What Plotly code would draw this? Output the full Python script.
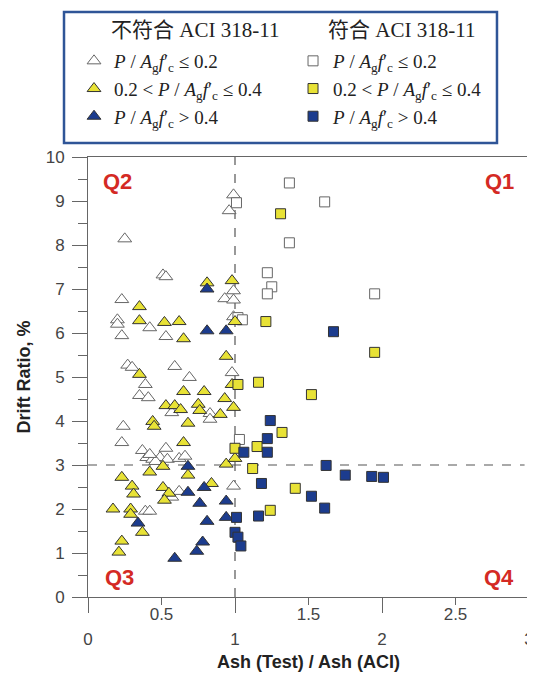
import plotly.graph_objects as go

# ---- data (x = Ash(Test)/Ash(ACI), y = drift ratio %) ----
nc_low_x = [0.99,0.96,0.25,0.51,0.53,0.99,0.93,0.99,0.23,0.20,0.20,0.42,0.99,0.23,0.53,0.27,0.30,0.59,0.69,0.98,0.39,0.35,0.41,0.57,0.83,0.83,0.24,0.23,0.37,0.40,0.44,0.49,0.53,0.54,0.46,0.62,0.66,0.42,0.62,0.57,0.99,0.39,0.42]
nc_low_y = [9.14,8.78,8.14,7.32,7.28,6.96,6.78,6.75,6.76,6.30,6.20,6.12,6.37,5.94,5.92,5.27,5.22,5.24,4.99,5.10,4.83,4.58,4.53,4.19,4.17,4.04,3.88,3.51,3.33,3.17,3.13,3.17,3.38,3.13,3.08,3.15,3.20,3.24,2.40,2.27,2.52,1.95,1.95]

nc_mid_x = [0.81,0.98,0.35,0.35,0.52,0.62,0.65,1.00,0.94,0.35,0.98,0.65,0.79,0.93,0.53,0.59,0.63,0.75,0.76,0.99,0.90,0.44,0.45,0.68,0.65,0.51,0.42,0.68,0.94,1.00,0.23,0.30,0.31,0.51,0.55,0.52,0.84,0.17,0.29,0.29,0.37,0.23,0.21]
nc_mid_y = [7.14,7.19,6.60,6.28,6.24,6.26,5.87,6.26,5.47,5.06,4.83,4.67,4.67,4.51,4.35,4.35,4.26,4.38,4.24,4.31,4.15,3.99,3.88,3.95,3.51,2.97,2.84,2.77,3.02,3.15,2.72,2.52,2.34,2.49,2.36,2.20,2.58,2.00,2.00,1.88,1.47,1.27,1.02]

nc_high_x = [0.81,0.81,0.94,0.68,0.68,0.79,0.76,0.94,0.81,0.94,0.34,0.59,0.78,0.74]
nc_high_y = [7.00,6.05,6.05,2.97,2.38,2.49,2.13,2.18,1.72,1.81,1.68,0.88,1.25,1.04]

c_low_x = [1.01,1.02,1.05,1.37,1.61,1.37,1.22,1.25,1.22,1.95,1.03]
c_low_y = [8.96,6.35,6.30,9.41,8.98,8.05,7.37,7.05,6.89,6.89,3.58]

c_mid_x = [1.31,1.21,1.95,1.02,1.16,1.52,1.32,1.15,1.00,1.12,1.41,1.24]
c_mid_y = [8.71,6.26,5.56,4.83,4.88,4.60,3.74,3.42,3.38,2.92,2.47,1.97]

c_high_x = [1.67,1.24,1.22,1.06,1.22,1.62,1.75,1.93,2.01,1.18,1.52,1.61,1.16,1.01,1.00,1.02,1.04]
c_high_y = [6.03,4.01,3.60,3.29,3.29,2.99,2.77,2.74,2.72,2.58,2.29,2.02,1.84,1.81,1.47,1.36,1.16]

x_ticks_major = [0, 1, 2, 3]
x_ticks_half = [0.5, 1.5, 2.5]
y_ticks = list(range(0, 11))
quadrants = ["Q1", "Q2", "Q3", "Q4"]
legend_headers = ["不符合 ACI 318-11", "符合 ACI 318-11"]

WHITE = "#ffffff"
YELLOW = "#e8e236"
BLUE = "#1c3c8e"
EDGE = "#333333"
AX = "#666666"

ratio = "<i>P</i> / <i>A</i><sub>g</sub><i>f</i>\u2032<sub>c</sub>"
lab_low = ratio + " \u2264 0.2"
lab_mid = "0.2 < " + ratio + " \u2264 0.4"
lab_high = ratio + " > 0.4"

fig = go.Figure()
series = [
    (nc_low_x, nc_low_y, "triangle-up", WHITE, lab_low),
    (c_low_x, c_low_y, "square", WHITE, lab_low),
    (nc_mid_x, nc_mid_y, "triangle-up", YELLOW, lab_mid),
    (c_mid_x, c_mid_y, "square", YELLOW, lab_mid),
    (nc_high_x, nc_high_y, "triangle-up", BLUE, lab_high),
    (c_high_x, c_high_y, "square", BLUE, lab_high),
]
for xs, ys, sym, col, lab in series:
    size = 12 if sym == "triangle-up" else 10
    fig.add_trace(go.Scatter(
        x=xs, y=ys, mode="markers", name=lab,
        marker=dict(symbol=sym, size=size, color=col,
                    line=dict(color=EDGE if col != WHITE else "#666666", width=1)),
    ))
# empty trace so the half-step tick axis is drawn
fig.add_trace(go.Scatter(x=[], y=[], xaxis="x2", yaxis="y", showlegend=False, hoverinfo="skip"))

# dashed reference lines
fig.add_shape(type="line", x0=1, x1=1, y0=0, y1=10, xref="x", yref="y",
              line=dict(color="#555555", width=1.2, dash="dash"), layer="below")
fig.add_shape(type="line", x0=0, x1=2.97, y0=3, y1=3, xref="x", yref="y",
              line=dict(color="#555555", width=1.2, dash="dash"), layer="below")

# legend frame
fig.add_shape(type="rect", xref="paper", yref="paper", x0=-0.0544, x1=0.9274, y0=1.0318, y1=1.3295,
              line=dict(color="#2f5597", width=2.5), fillcolor="white", layer="below")
for txt, hx in zip(legend_headers, [0.2426, 0.7098]):
    fig.add_annotation(x=hx, y=1.2886, xref="paper", yref="paper", text=txt, showarrow=False,
                       xanchor="center", yanchor="middle",
                       font=dict(family="Liberation Serif, Noto Sans CJK SC, serif", size=21, color="#222222"))

qpos = {"Q1": (0.97, 0.945, "right"), "Q2": (0.03, 0.945, "left"),
        "Q3": (0.035, 0.045, "left"), "Q4": (0.97, 0.045, "right")}
for q in quadrants:
    px, py, xa = qpos[q]
    fig.add_annotation(x=px, y=py, xref="paper", yref="paper", text="<b>%s</b>" % q,
                       showarrow=False, xanchor=xa, yanchor="middle",
                       font=dict(family="Liberation Sans, Arial", size=22, color="#d42a24"))

fig.update_layout(
    width=527, height=667,
    margin=dict(l=80, r=6, t=149, b=78),
    paper_bgcolor="white", plot_bgcolor="white",
    font=dict(family="Liberation Sans, Arial", color="#333333"),
    showlegend=True,
    legend=dict(
        orientation="h", x=-0.0317, y=1.2614, xanchor="left", yanchor="top",
        entrywidth=174, entrywidthmode="pixels",
        borderwidth=0, bgcolor="rgba(0,0,0,0)",
        font=dict(family="Liberation Serif, Times New Roman, serif", size=19, color="#222222"),
        tracegroupgap=0, itemwidth=30,
    ),
    xaxis=dict(range=[0, 3], tickvals=x_ticks_major, ticktext=[("%g" % v) for v in x_ticks_major],
               showgrid=False, zeroline=False, showline=True, linecolor=AX, linewidth=1,
               mirror=True, ticks="outside", ticklen=15, tickcolor=AX, automargin=False,
               ticklabeloverflow="allow", ticklabelstandoff=12,
               tickfont=dict(size=17, color="#444444"),
               title=dict(text="<b>Ash (Test) / Ash (ACI)</b>", font=dict(size=18, color="#222222"), standoff=6)),
    xaxis2=dict(range=[0, 3], overlaying="x", anchor="y", side="bottom",
                tickvals=x_ticks_half, ticktext=[("%g" % v) for v in x_ticks_half],
                showgrid=False, zeroline=False, showline=False, ticks="outside", ticklen=7,
                tickcolor=AX, automargin=False, ticklabeloverflow="allow", ticklabelstandoff=-5,
                tickfont=dict(size=17, color="#444444")),
    yaxis=dict(range=[0, 10], tickvals=y_ticks, showgrid=False, zeroline=False, showline=True,
               linecolor=AX, linewidth=1, mirror=True, ticks="outside", ticklen=15,
               tickcolor=AX, tickfont=dict(size=17, color="#444444"), automargin=False,
               ticklabelstandoff=4,
               minor=dict(dtick=0.5, ticks="outside", ticklen=9, tickcolor=AX),
               title=dict(text="<b>Drift Ratio, %</b>", font=dict(size=18, color="#222222"), standoff=10)),
)

fig.write_html("out.html")
